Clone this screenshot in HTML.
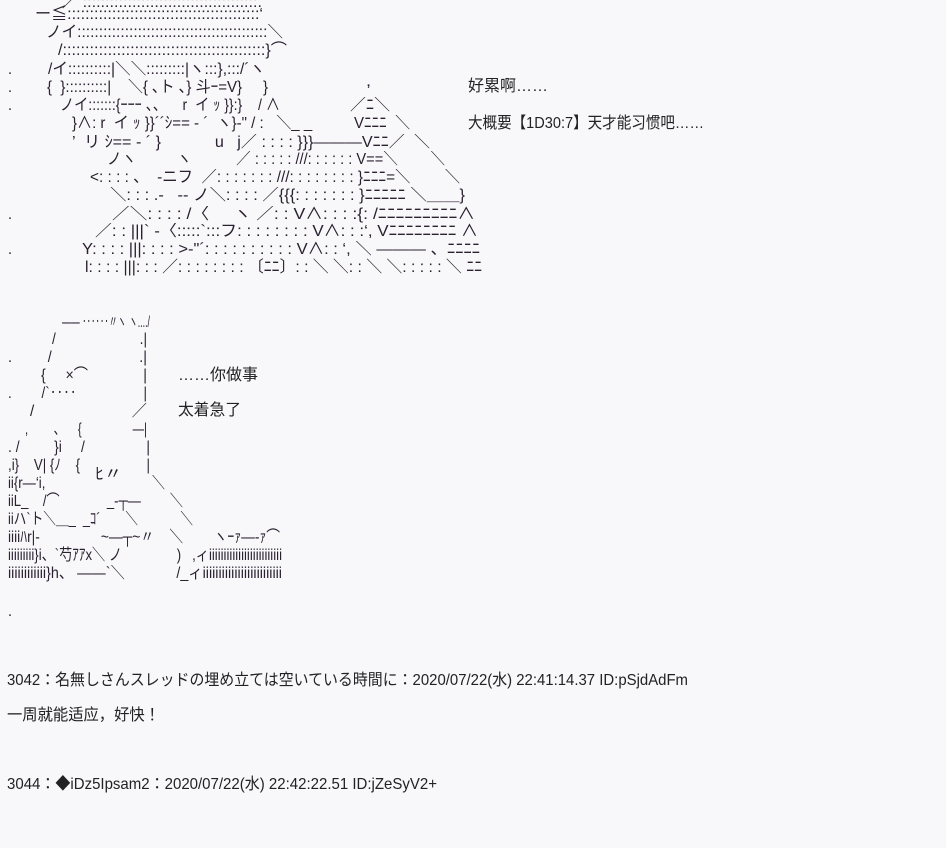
<!DOCTYPE html>
<html><head><meta charset="utf-8">
<style>
html,body{margin:0;padding:0;background:#f8f8fa;width:946px;height:848px;overflow:hidden;}
i{position:absolute;font-style:normal;white-space:pre;font-family:"Liberation Sans","Noto Sans CJK JP",sans-serif;font-size:16px;line-height:18px;color:#2a2030;transform-origin:0 0;}
i.t{color:#222;}
</style></head><body>
<!-- top art -->
<i style="left:62px;top:-6px;--w:200">／ :::::::::::::::::::::::::::::::::::::::.</i>
<i style="left:35px;top:6px;--w:228">ー≦:::::::::::::::::::::::::::::::::::::::::::‘</i>
<i style="left:46px;top:24px;--w:237">ノイ::::::::::::::::::::::::::::::::::::::::::::＼</i>
<i style="left:58px;top:42px;--w:229">/:::::::::::::::::::::::::::::::::::::::::::::}⌒</i>
<i style="left:8px;top:61px;--w:4">.</i>
<i style="left:48px;top:61px;--w:217">/イ::::::::::|＼＼:::::::::|ヽ:::},:::/´ヽ</i>
<i style="left:8px;top:79px;--w:4">.</i>
<i style="left:47px;top:79px;--w:221">{  }::::::::::|    ＼{ ､ト ､} 斗ｰ=V}     }</i>
<i style="left:366px;top:73px;--w:5">,</i>
<i style="left:8px;top:97px;--w:4">.</i>
<i style="left:60px;top:97px;--w:220">ノイ:::::::{ｰｰｰ 、、    r  イ ｯ }}:}    / ∧</i>
<i style="left:350px;top:97px;--w:40">／ﾆ＼</i>
<i style="left:72px;top:115px;--w:338">}∧: r  イ ｯ }}´´ｼ== ‐ ´  ヽ}-" / :   ＼_ _          Vﾆﾆﾆ  ＼</i>
<i style="left:72px;top:134px;--w:358">’  リ ｼ== ‐ ´ }            u   j／ : : : : }}}———Vﾆﾆ／  ＼</i>
<i style="left:107px;top:151px;--w:338">ノヽ          ヽ           ／ : : : : : ///: : : : : : V==＼        ＼</i>
<i style="left:90px;top:169px;--w:370"><: : : : 、  ‐ニフ  ／: : : : : : : ///: : : : : : : : }ﾆﾆﾆ=＼        ＼</i>
<i style="left:110px;top:187px;--w:355">＼: : : .‐   ‐‐ ノ＼: : : : ／{{{: : : : : : : }ﾆﾆﾆﾆﾆ ＼＿＿}</i>
<i style="left:8px;top:206px;--w:4">.</i>
<i style="left:112px;top:206px;--w:363">／＼: : : : /〈     ヽ ／: : V∧: : : :{: /ﾆﾆﾆﾆﾆﾆﾆﾆﾆ∧</i>
<i style="left:95px;top:223px;--w:383">／: : |||` ‐〈:::::`:::フ: : : : : : : : V∧: : :‘, Vﾆﾆﾆﾆﾆﾆﾆﾆ ∧</i>
<i style="left:8px;top:241px;--w:4">.</i>
<i style="left:82px;top:241px;--w:398">Y: : : : |||: : : : >‐"´: : : : : : : : : : V∧: : ‘, ＼ ——— 、ﾆﾆﾆﾆ</i>
<i style="left:85px;top:259px;--w:397">l: : : : |||: : : ／: : : : : : : : 〔ﾆﾆ〕: : ＼ ＼: : ＼ ＼: : : : : ＼ ﾆﾆ</i>
<!-- top text -->
<i class="t" style="left:468px;top:78px;--w:80">好累啊……</i>
<i class="t" style="left:468px;top:115px;--w:236">大概要【1D30:7】天才能习惯吧……</i>
<!-- bottom art -->
<i style="left:62px;top:314px;--w:88">—— ‥‥‥〃ヽ ヽ..../</i>
<i style="left:52px;top:331px;--w:95">/                      .|</i>
<i style="left:8px;top:349px;--w:139">.         /                      .|</i>
<i style="left:41px;top:367px;--w:106">{     ×⌒              |</i>
<i style="left:8px;top:385px;--w:139">.        /`‥‥                  |</i>
<i style="left:30px;top:403px;--w:117">/                       ／</i>
<i style="left:25px;top:421px;--w:122">,        、    {                —|</i>
<i style="left:8px;top:439px;--w:142">. /         }i     /                |</i>
<i style="left:8px;top:457px;--w:142">,i}    V| {ﾉ    {                  |</i>
<i style="left:95px;top:466px;--w:27">ﾋ〃</i>
<i style="left:8px;top:475px;--w:157">ii{r—‘i,                             ＼</i>
<i style="left:8px;top:493px;--w:175">iiL_    /⌒             _‐┬—        ＼</i>
<i style="left:8px;top:511px;--w:185">iiハ`ト＼＿_  _ｺ´       ＼            ＼</i>
<i style="left:8px;top:529px;--w:272">iiiiﾊr|‐                ~—┬~〃    ＼        ヽｰｧ—‐ｧ⌒</i>
<i style="left:8px;top:547px;--w:274">iiiiiiiii}i、`芍ｱｱx＼ ノ               )   ,ィiiiiiiiiiiiiiiiiiiiiiiiii</i>
<i style="left:8px;top:565px;--w:274">iiiiiiiiiiii}h、 ——`＼             /_ィiiiiiiiiiiiiiiiiiiiiiiiii</i>
<i class="t" style="left:178px;top:367px;--w:80">……你做事</i>
<i class="t" style="left:178px;top:402px;--w:63">太着急了</i>
<i style="left:8px;top:603px;--w:4">.</i>
<!-- posts -->
<i class="t" style="left:7px;top:672px;--w:681">3042：名無しさんスレッドの埋め立ては空いている時間に：2020/07/22(水) 22:41:14.37 ID:pSjdAdFm</i>
<i class="t" style="left:7px;top:707px;--w:153">一周就能适应，好快！</i>
<i class="t" style="left:7px;top:776px;--w:430">3044：◆iDz5Ipsam2：2020/07/22(水) 22:42:22.51 ID:jZeSyV2+</i>
<script>
document.querySelectorAll('i').forEach(function(e){
  var w=parseFloat(getComputedStyle(e).getPropertyValue('--w'));
  var r=e.getBoundingClientRect().width;
  if(w&&r){e.style.transform='scaleX('+(w/r)+')';}
});
</script>
</body></html>
